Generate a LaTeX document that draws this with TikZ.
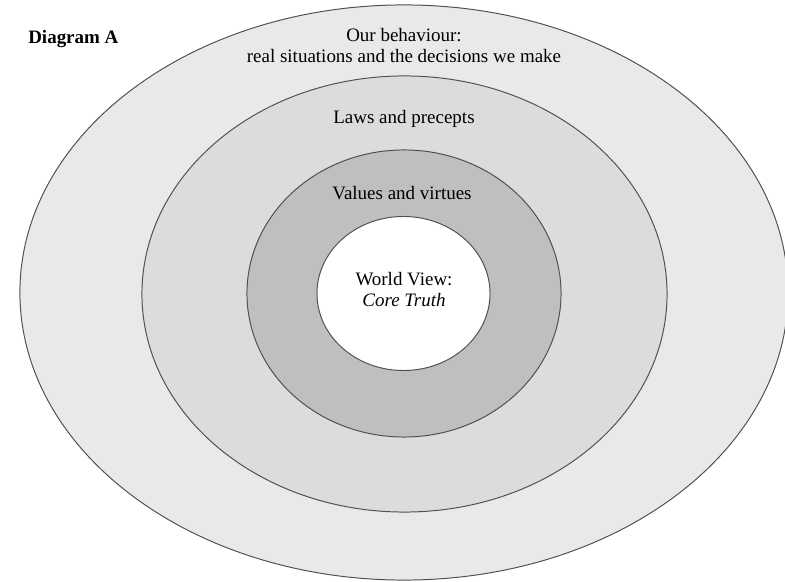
\documentclass[tikz,border=0pt]{standalone}
\usepackage{fontspec}
\setmainfont{Liberation Serif}
\usepackage{tikz}
\usetikzlibrary{shapes.geometric}

\definecolor{ringA}{HTML}{E9E9E9}
\definecolor{ringB}{HTML}{DCDCDC}
\definecolor{ringC}{HTML}{BFBFBF}
\definecolor{rimgray}{HTML}{505050}

\begin{document}
\begin{tikzpicture}[
  x=0.025cm, y=-0.025cm,
  ring/.style={draw=rimgray,line width=0.7pt,ellipse,inner sep=0pt,outer sep=0pt},
  lbl/.style={anchor=base,align=center,inner sep=0pt,font=\fontsize{13.5}{15.6}\selectfont}
]
  \useasboundingbox (0,0) rectangle (785,582);

  % rings
  \node[ring,fill=ringA,minimum width=19.2cm,minimum height=14.375cm] (behaviour) at (404,292.5) {};
  \node[ring,fill=ringB,minimum width=13.125cm,minimum height=10.9cm] (laws) at (404.5,294) {};
  \node[ring,fill=ringC,minimum width=7.85cm,minimum height=7.175cm] (values) at (404,293.5) {};
  \node[ring,fill=white,minimum width=4.325cm,minimum height=3.85cm] (core) at (403.5,293.5) {};

  % labels (base = last line)
  \node[lbl,anchor=base west] (title) at (28,44) {\bfseries Diagram A};
  \node[lbl] (behaviour_txt) at (404,63) {Our behaviour:\\real situations and the decisions we make};
  \node[lbl] (laws_txt) at (404,124) {Laws and precepts};
  \node[lbl] (values_txt) at (402,200) {Values and virtues};
  \node[lbl] (core_txt) at (404,307) {World View:\\\textit{Core Truth}};

\end{tikzpicture}
\end{document}
